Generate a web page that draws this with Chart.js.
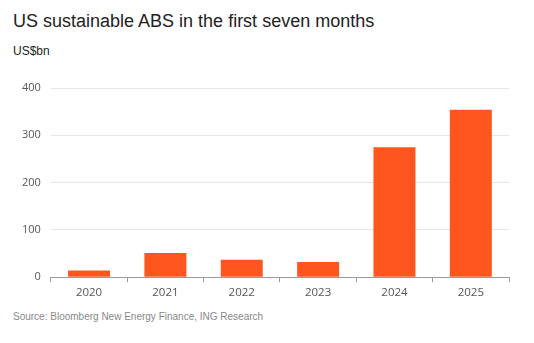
<!DOCTYPE html>
<html>
<head>
<meta charset="utf-8">
<script src="https://cdn.jsdelivr.net/npm/chart.js@4/dist/chart.umd.min.js"></script>
<style>
  html, body { margin: 0; padding: 0; background: #fff; }
  body { width: 534px; height: 343px; position: relative; overflow: hidden; font-family: "Liberation Sans", Arial, sans-serif; }
  .title { position: absolute; left: 13px; top: 11px; font-size: 18px; color: #222; white-space: nowrap; }
  .unit { position: absolute; left: 13px; top: 44px; font-size: 12px; color: #222; }
  .source { position: absolute; left: 13px; top: 311px; font-size: 10px; color: #888; white-space: nowrap; }
  #wrap { position: absolute; left: 0; top: 0; width: 534px; height: 343px; }
</style>
</head>
<body>
<div class="title">US sustainable ABS in the first seven months</div>
<div class="unit">US$bn</div>
<div class="source">Source: Bloomberg New Energy Finance, ING Research</div>
<div id="wrap"><canvas id="chart"></canvas></div>
<script>
// ── Data ─────────────────────────────────────
const years  = ['2020', '2021', '2022', '2023', '2024', '2025'];
const absBn  = [14, 51, 37, 32, 275, 354];
const yTicks = [0, 100, 200, 300, 400];

new Chart(document.getElementById('chart'), {
  type: 'bar',
  data: {
    labels: years,
    datasets: [{
      data: absBn,
      backgroundColor: '#ff561f',
      barPercentage: 0.55,
      categoryPercentage: 1,
    }],
  },
  options: {
    responsive: true,
    maintainAspectRatio: false,
    animation: false,
    layout: { padding: { left: 12, right: 25, top: 88, bottom: 39 } },
    plugins: { legend: { display: false }, tooltip: { enabled: false } },
    scales: {
      x: {
        grid: { drawOnChartArea: false, drawTicks: true, tickLength: 5, color: '#999' },
        border: { color: '#999' },
        ticks: { color: '#555', font: { family: 'Open Sans', size: 11.5 }, padding: 4 },
      },
      y: {
        min: 0,
        max: 400,
        afterBuildTicks: axis => { axis.ticks = yTicks.map(v => ({ value: v })); },
        grid: { color: '#e6e6e6', drawTicks: false },
        border: { display: false },
        ticks: { color: '#555', font: { family: 'Open Sans', size: 11 }, padding: 10 },
      },
    },
  },
});
</script>
</body>
</html>
